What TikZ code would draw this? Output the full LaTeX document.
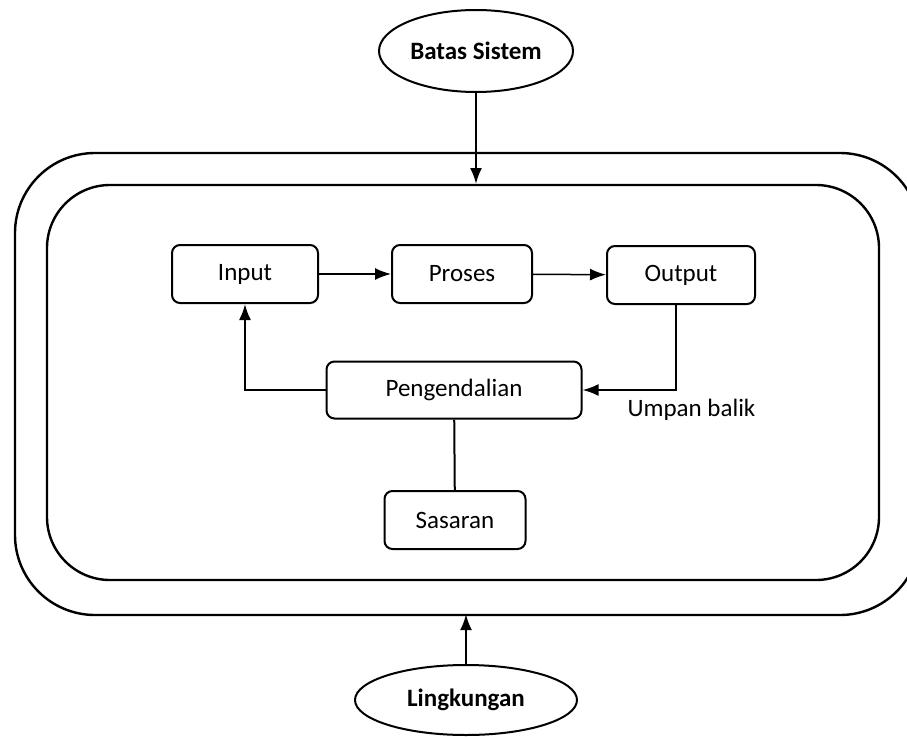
\documentclass[tikz,border=0pt]{standalone}
\usepackage{fontspec}
\setmainfont{Carlito}
\usepackage{tikz}
\usetikzlibrary{arrows.meta}
\usetikzlibrary{positioning}
\usetikzlibrary{shapes}
\tikzset{
  kotak/.style = {draw, rounded corners=8pt, line width=2pt,
    minimum height=58pt, inner sep=0pt, align=center,
    font=\fontsize{25}{30}\selectfont},% kotak proses
  elips/.style = {draw, ellipse, line width=2pt, inner sep=0pt,
    font=\bfseries\fontsize{25}{30}\selectfont},% elips luar
  garis/.style = {line width=2pt}
}

\begin{document}
\begin{tikzpicture}[x=1pt,y=-1pt,>={Latex[length=16pt,width=12pt]}]
\useasboundingbox (0,0) rectangle (907,736);

% batas sistem
\draw[line width=2.4pt, rounded corners=80pt] (15,153) rectangle (920,615);
\draw[line width=2.4pt, rounded corners=63pt] (47,185) rectangle (879,580);

\node [kotak, minimum width=146pt] (input) at (245,274) {Input};
\node [kotak, minimum width=140pt] (proses) at (462,274) {Proses};
\node [kotak, minimum width=148pt] (output) at (681,275) {Output};
\node [kotak, minimum width=255pt, minimum height=57pt] (kendali) at (454,390) {Pengendalian};
\node [kotak, minimum width=141pt] (sasaran) at (455,520) {Sasaran};

\node [elips, minimum width=194pt, minimum height=82pt] (batas) at (476,51) {Batas Sistem};
\node [elips, minimum width=222pt, minimum height=70pt] (lingkungan) at (466,700) {Lingkungan};

\coordinate (dalam) at (476,184);
\coordinate (luar) at (466,614);

\draw[->,line width=1.5pt] (input) -- (proses);
\draw[->,line width=1.5pt] (proses) -- (output);
\draw[->,garis] ([xshift=-5pt]output.south) |- (kendali.east);
\draw[->,garis] (kendali.west) -| (input.south);
\draw[garis] (kendali) -- (sasaran);
\node [anchor=base west, font=\fontsize{25}{30}\selectfont] (umpan) at (624,416) {Umpan balik};

\draw[->,garis] (batas.south) -- (dalam);
\draw[->,line width=2.4pt] (lingkungan.north) -- (luar);
\end{tikzpicture}
\end{document}
